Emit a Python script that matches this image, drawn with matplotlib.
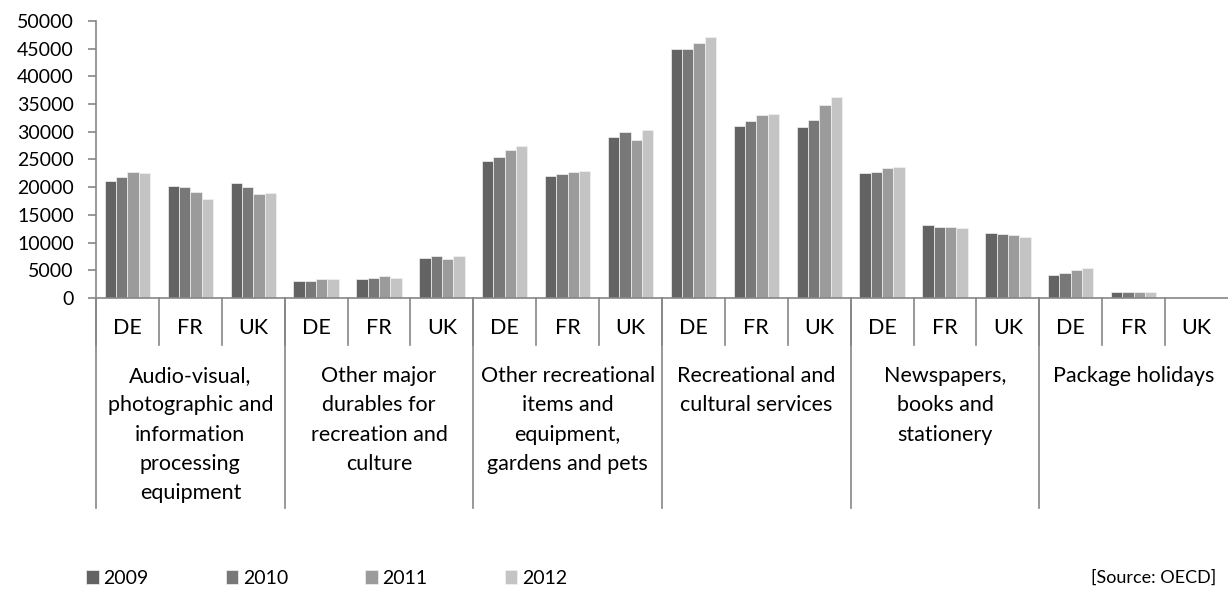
import matplotlib.pyplot as plt
import numpy as np

plt.rcParams['font.family'] = ['Lato', 'DejaVu Sans']

years = ['2009', '2010', '2011', '2012']
countries = ['DE', 'FR', 'UK']
groups = [
    'Audio-visual,\nphotographic and\ninformation\nprocessing\nequipment',
    'Other major\ndurables for\nrecreation and\nculture',
    'Other recreational\nitems and\nequipment,\ngardens and pets',
    'Recreational and\ncultural services',
    'Newspapers,\nbooks and\nstationery',
    'Package holidays',
]

# values per year, ordered group by group, DE/FR/UK within each group
v2009 = [21200, 20300, 20700, 3000, 3500, 7300, 24700, 22100, 29000,
         44900, 31000, 30800, 22500, 13100, 11700, 4200, 1000, 0]
v2010 = [21800, 20000, 20000, 3100, 3700, 7600, 25400, 22300, 29900,
         45000, 32000, 32200, 22800, 12900, 11500, 4500, 1100, 0]
v2011 = [22700, 19200, 18700, 3400, 4000, 7100, 26800, 22800, 28600,
         46000, 33000, 34800, 23500, 12900, 11300, 5100, 1100, 0]
v2012 = [22600, 17800, 18900, 3500, 3700, 7600, 27400, 23000, 30400,
         47200, 33300, 36300, 23600, 12700, 11100, 5500, 1100, 0]
series = [v2009, v2010, v2011, v2012]
colors = ['#636363', '#787878', '#9b9b9b', '#c4c4c4']

W, H = 1228, 596
fig = plt.figure(figsize=(W / 100, H / 100), dpi=100)
ax = fig.add_axes([96 / W, 1 - 298 / H, 1132 / W, 277 / H])

n = len(v2009)
x = np.arange(n)
bw = 0.18
bars = []
for k, (vals, c) in enumerate(zip(series, colors)):
    b = ax.bar(x + (k - 1.5) * bw, vals, bw, color=c, edgecolor='#f2f2f2',
               linewidth=0.5, label=years[k])
    bars.append(b)

ax.set_xlim(-0.5, n - 0.5)
ax.set_ylim(0, 50000)
ax.set_yticks(range(0, 50001, 5000))
ax.set_xticks([])
for s in ['top', 'right']:
    ax.spines[s].set_visible(False)
for s in ['left', 'bottom']:
    ax.spines[s].set_color('#868686')
    ax.spines[s].set_linewidth(1.2)
ax.tick_params(axis='y', length=6, width=1.2, color='#868686', pad=10,
               labelsize=14, labelcolor='#000000')

# multi-level category axis
tr = ax.get_xaxis_transform()
ppx = 277.0
for i in range(n):
    ax.text(i, (298 - 328) / ppx, countries[i % 3], transform=tr,
            ha='center', va='center', fontsize=15.5)
for i in range(n):
    ax.plot([i - 0.5, i - 0.5], [0, (298 - 345) / ppx], transform=tr,
            color='#868686', lw=1.2, clip_on=False)
for g in range(len(groups)):
    ax.plot([3 * g - 0.5, 3 * g - 0.5], [0, (298 - 508) / ppx], transform=tr,
            color='#868686', lw=1.2, clip_on=False)
    ax.text(3 * g + 1, (298 - 366) / ppx, groups[g], transform=tr,
            ha='center', va='top', fontsize=15.5, linespacing=1.58)

leg = fig.legend(handles=bars, labels=years, loc='center left',
                 bbox_to_anchor=(86 / W, 1 - 578 / H), ncol=4, frameon=False,
                 fontsize=14, handlelength=0.65, handleheight=0.7,
                 handletextpad=0.25, columnspacing=3.95, borderaxespad=0,
                 borderpad=0)

fig.text(1216 / W, 1 - 578 / H, '[Source: OECD]', ha='right', va='center',
         fontsize=13)

fig.savefig('out.png', dpi=100, facecolor='white')
